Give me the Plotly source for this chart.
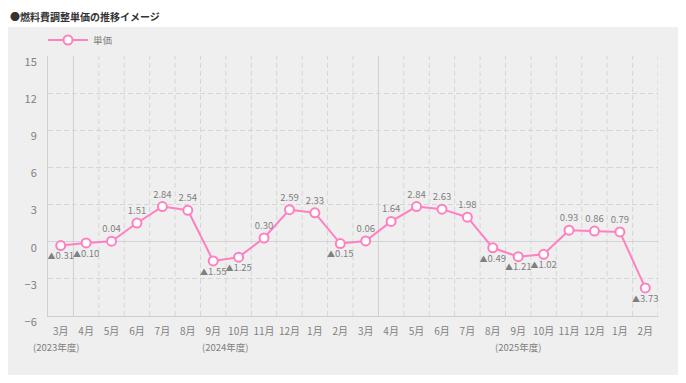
import plotly.graph_objects as go

title = "●燃料費調整単価の推移イメージ"
series_name = "単価"
months = ["3月", "4月", "5月", "6月", "7月", "8月", "9月", "10月", "11月", "12月", "1月", "2月",
          "3月", "4月", "5月", "6月", "7月", "8月", "9月", "10月", "11月", "12月", "1月", "2月"]
values = [-0.31, -0.10, 0.04, 1.51, 2.84, 2.54, -1.55, -1.25, 0.30, 2.59, 2.33, -0.15,
          0.06, 1.64, 2.84, 2.63, 1.98, -0.49, -1.21, -1.02, 0.93, 0.86, 0.79, -3.73]
fiscal_labels = ["(2023年度)", "(2024年度)", "(2025年度)"]
fiscal_start_idx = [0, 1, 13]
fiscal_end_idx = [0, 12, 23]
y_ticks = [-6, -3, 0, 3, 6, 9, 12, 15]

PINK = "#ff80c0"
GRID = "#d6d6d6"
TXT = "#808080"
FONT = "Noto Sans CJK JP"

# page body has an 8px margin: size the figure to fit the 686x383 window
OFF = 8
W, H = 686 - 2 * OFF, 383 - 2 * OFF


def fx(px):  # reference-page x -> figure x
    return px - OFF


def fy(py):  # reference-page y -> figure y
    return py - OFF


plot_l, plot_r, plot_t, plot_b = fx(48), fx(658), fy(56), fy(316)
ml, mr, mt, mb = plot_l, W - plot_r, plot_t, H - plot_b
pw, ph = plot_r - plot_l, plot_b - plot_t


def px2paper_x(v):
    return (v - plot_l) / pw


def px2paper_y(v):
    return (plot_b - v) / ph


x = list(range(len(months)))
TRI = '<span style="font-size:8px">▲</span>'
labels = [f"{v:.2f}" if v >= 0 else f"{TRI}{abs(v):.2f}" for v in values]
positions = ["top center" if v >= 0 else "bottom center" for v in values]

fig = go.Figure()
fig.add_trace(go.Scatter(
    x=x, y=values, mode="lines+markers+text", name=series_name,
    line=dict(color=PINK, width=2),
    marker=dict(size=9, color="white", line=dict(color=PINK, width=2)),
    text=labels, textposition=positions,
    textfont=dict(size=9.5, color=TXT, family=FONT),
    cliponaxis=False,
))

shapes = []
# grey panel
shapes.append(dict(type="rect", xref="paper", yref="paper",
                   x0=px2paper_x(max(0, fx(4))), x1=px2paper_x(min(W, fx(683))),
                   y0=px2paper_y(min(H, fy(377))), y1=px2paper_y(fy(27)),
                   fillcolor="#efefef", line=dict(width=0), layer="below"))
# vertical grid at category boundaries
for i in range(1, len(months) + 1):
    solid = i < len(months) and i in fiscal_start_idx
    shapes.append(dict(type="line", xref="x", yref="paper", x0=i - 0.5, x1=i - 0.5, y0=0, y1=1,
                       line=dict(color="#cfcfcf" if solid else GRID, width=1,
                                 dash="solid" if solid else "5px,3px"),
                       layer="below"))

annotations = [dict(text=f"<b>{title}</b>", xref="paper", yref="paper",
                    x=px2paper_x(fx(8)), y=px2paper_y(fy(16)), xanchor="left", yanchor="middle",
                    showarrow=False, font=dict(size=10, color="#333333", family=FONT))]
for lab, s, e in zip(fiscal_labels, fiscal_start_idx, fiscal_end_idx):
    annotations.append(dict(text=lab, xref="x", yref="paper", x=(s + e) / 2 - (0.15 if s == e else 0),
                            y=px2paper_y(fy(347)), xanchor="center", yanchor="middle",
                            showarrow=False, font=dict(size=9.5, color=TXT, family=FONT)))

fig.update_layout(
    width=W, height=H,
    margin=dict(l=ml, r=mr, t=mt, b=mb, pad=0, autoexpand=False),
    paper_bgcolor="white", plot_bgcolor="rgba(0,0,0,0)",
    font=dict(family=FONT, color=TXT),
    showlegend=True,
    legend=dict(xref="container", yref="container", x=(fx(48) - 5) / W, y=1 - fy(40) / H,
                xanchor="left", yanchor="middle",
                bgcolor="rgba(0,0,0,0)", font=dict(size=9.5, color=TXT, family=FONT),
                itemwidth=40),
    shapes=shapes, annotations=annotations,
    xaxis=dict(range=[-0.5, len(months) - 0.5], tickmode="array", tickvals=x, ticktext=months,
               showgrid=False, zeroline=False, showline=True, linecolor="#cfcfcf", linewidth=1,
               ticks="", ticklabelstandoff=6, tickfont=dict(size=10, color=TXT, family=FONT),
               fixedrange=True, automargin=False),
    yaxis=dict(range=[-6, 15], tickmode="array", tickvals=y_ticks,
               showgrid=True, gridcolor=GRID, griddash="5px,3px", gridwidth=1,
               zeroline=True, zerolinecolor="#d3d3d3", zerolinewidth=1,
               showline=True, linecolor="#cfcfcf", linewidth=1,
               ticks="", ticklabelstandoff=8, ticklabelshift=6,
               tickfont=dict(size=11, color=TXT, family=FONT), fixedrange=True, automargin=False),
)

fig.write_html("out.html")
